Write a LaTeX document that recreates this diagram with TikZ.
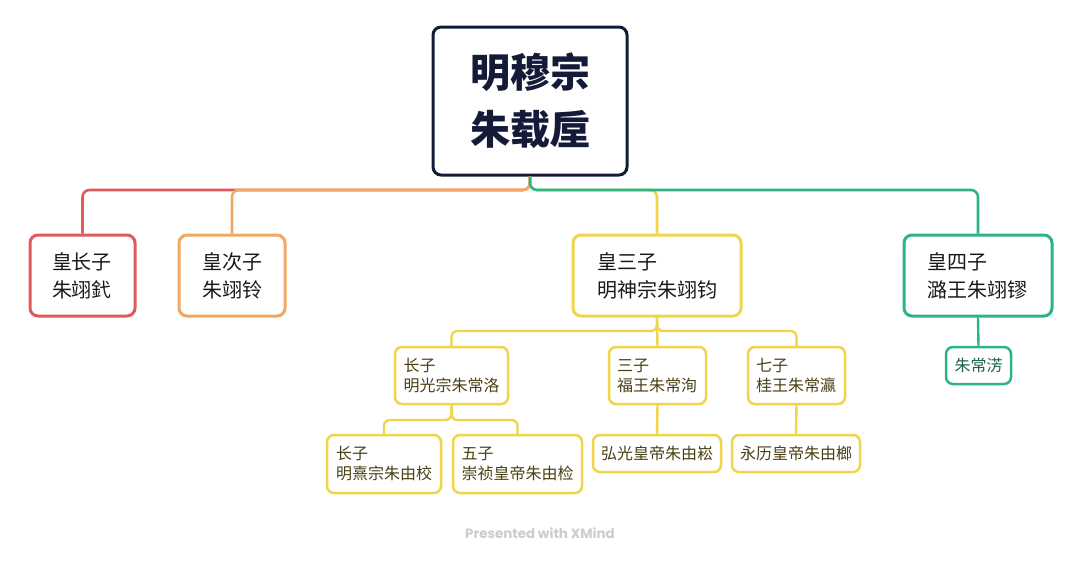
\documentclass[tikz,border=0pt]{standalone}
\usepackage{fontspec}
\setmainfont{Noto Sans CJK SC}
\newfontfamily\footfont{Poppins}
\definecolor{navy}{HTML}{141B38}
\definecolor{cred}{HTML}{E05A5A}
\definecolor{corange}{HTML}{F0A862}
\definecolor{cyellow}{HTML}{F0D44A}
\definecolor{cgreen}{HTML}{2DB38A}
\definecolor{ytext}{HTML}{4A4015}
\definecolor{gtext}{HTML}{1E5F48}
\definecolor{ltext}{HTML}{1A1A1A}
\begin{document}
\begin{tikzpicture}[x=1pt,y=-1pt,
  rootbox/.style={draw=navy,line width=3pt,rounded corners=8pt,fill=white,
    minimum width=194pt,minimum height=148pt,inner sep=0pt,align=center,
    text=navy,font=\fontsize{40}{57}\selectfont\bfseries},
  lvone/.style={draw=#1,line width=3pt,rounded corners=8pt,fill=white,
    minimum height=81pt,inner ysep=0pt,align=left,text=ltext,
    font=\fontsize{20}{28}\selectfont},
  lvtwo/.style={draw=cyellow,line width=2.5pt,rounded corners=7pt,fill=white,
    minimum height=57pt,inner ysep=0pt,align=left,text=ytext,
    font=\fontsize{16}{20}\selectfont},
  lvone/.default=cred,
  conn/.style={line width=2.6pt,rounded corners=7pt},
  connb/.style={line width=2.4pt,rounded corners=6pt}
]
\useasboundingbox (0,0) rectangle (1080,562);
\fill[white] (0,0) rectangle (1080,562);

% root
\node[rootbox] (root) at (530,101) {明穆宗\\朱载垕};

% level 1
\node[lvone=cred,inner xsep=22pt,text width=61pt] (c1) at (82.5,275.5) {皇长子\\朱翊釴};
\node[lvone=corange,inner xsep=23pt,text width=60pt] (c2) at (232,275.5) {皇次子\\朱翊铃};
\node[lvone=cyellow,inner xsep=24pt,text width=120pt] (c3) at (657,275.5) {皇三子\\明神宗朱翊钧};
\node[lvone=cgreen,inner xsep=23pt,text width=102pt] (c4) at (978,275.5) {皇四子\\潞王朱翊镠};

% level 2
\node[lvtwo,inner xsep=8.5pt,text width=96pt] (d1) at (451.5,375.5) {长子\\明光宗朱常洛};
\node[lvtwo,inner xsep=8pt,text width=81pt] (d2) at (657.5,375.5) {三子\\福王朱常洵};
\node[lvtwo,inner xsep=8pt,text width=81pt] (d3) at (796.5,375.5) {七子\\桂王朱常瀛};
\node[draw=cgreen,line width=2.5pt,rounded corners=7pt,fill=white,
  minimum width=65pt,minimum height=37pt,inner sep=0pt,text=gtext,
  font=\fontsize{16}{20}\selectfont] (d4) at (978.5,365.5) {朱常淓};

% level 3
\node[lvtwo,minimum height=58pt,inner xsep=9pt,text width=96pt] (e1) at (384,464) {长子\\明熹宗朱由校};
\node[lvtwo,minimum height=58pt,inner xsep=8.5pt,text width=112pt] (e2) at (517.5,464) {五子\\崇祯皇帝朱由检};
\node[lvtwo,minimum width=128pt,minimum height=37pt,inner sep=0pt,align=center] (e3) at (657,453.5) {弘光皇帝朱由崧};
\node[lvtwo,minimum width=128pt,minimum height=37pt,inner sep=0pt,align=center] (e4) at (796,453.5) {永历皇帝朱由榔};

% connectors level 1
\draw[conn,cred] (root.south) -- (root.south |- 0,190) -- (c1.north |- 0,190) -- (c1.north);
\draw[conn,corange] (root.south) -- (root.south |- 0,190) -- (c2.north |- 0,190) -- (c2.north);
\draw[conn,cyellow] (root.south) -- (root.south |- 0,190) -- (c3.north |- 0,190) -- (c3.north);
\draw[conn,cgreen] (root.south) -- (root.south |- 0,190) -- (c4.north |- 0,190) -- (c4.north);

% connectors level 2
\draw[connb,cyellow] (c3.south) -- (c3.south |- 0,331) -- (d1.north |- 0,331) -- (d1.north);
\draw[connb,cyellow] (c3.south) -- (c3.south |- 0,331) -- (d3.north |- 0,331) -- (d3.north);
\draw[connb,cyellow] (c3.south) -- (d2.north);
\draw[connb,cgreen] (c4.south) -- (d4.north);

% connectors level 3
\draw[connb,cyellow] (d1.south) -- (d1.south |- 0,420) -- (e1.north |- 0,420) -- (e1.north);
\draw[connb,cyellow] (d1.south) -- (d1.south |- 0,420) -- (e2.north |- 0,420) -- (e2.north);
\draw[connb,cyellow] (d2.south) -- (e3.north);
\draw[connb,cyellow] (d3.south) -- (e4.north);

% footer
\node[text=black!20,font=\footfont\bfseries\fontsize{13.4}{15}\selectfont] (foot) at (540,533) {Presented with XMind};
\end{tikzpicture}
\end{document}
